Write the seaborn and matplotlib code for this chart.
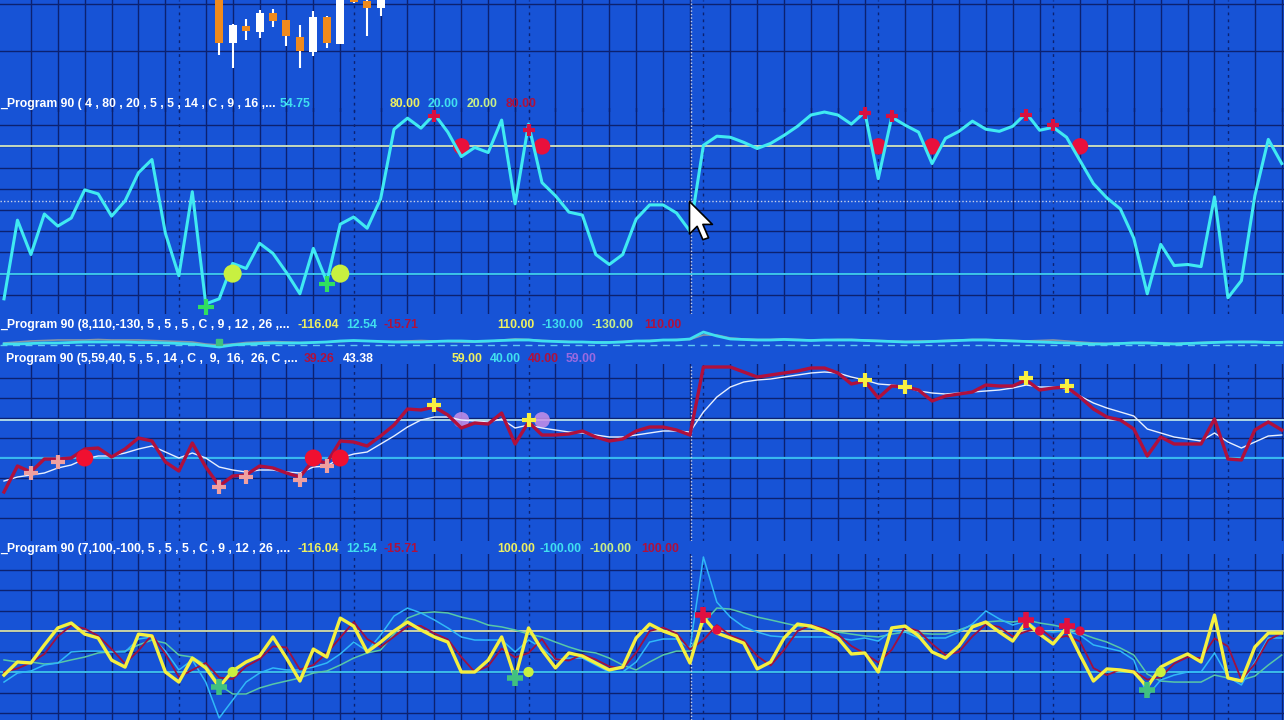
import numpy as np
import seaborn as sns
import matplotlib.pyplot as plt
from matplotlib.path import Path

W, H = 1284, 720
BG = '#1753d6'
GRID = '#0c2170'
WHITE, YEL, CYAN, LGREEN, CRIMSON, LAV = '#ffffff', '#eef060', '#40e0f0', '#c8f088', '#b0103c', '#9a6ae0'

# bar layout
n_bars = 96
bars = np.arange(n_bars)
session_starts = [0, 13, 26, 39, 52, 65, 78, 91]
cursor_bar, cursor_val = 50.9, 54.3

# price candles (visible part of the price chart)
candle_idx = list(range(16, 29))
candle_open = [110, 57, 74, 68, 87, 80, 63, 48, 83, 56, 105, 99, 92]
candle_close = [57, 75, 69, 87, 79, 64, 49, 83, 57, 110, 98, 92, 105]
candle_high = [115, 76, 81, 90, 91, 80, 75, 89, 84, 115, 110, 100, 110]
candle_low = [45, 32, 60, 62, 73, 54, 32, 44, 52, 56, 97, 64, 84]

# indicator 1 (4, 80, 20)
ind1 = [8.1, 45.2, 29.0, 48.1, 42.4, 46.2, 59.5, 57.6, 47.1, 54.3,
        67.6, 73.8, 39.0, 19.0, 58.6, 5.7, 8.1, 24.8, 22.4, 34.3,
        29.5, 20.5, 10.5, 31.9, 16.2, 43.3, 46.7, 41.4, 55.2, 88.1,
        93.3, 88.6, 95.2, 86.7, 75.2, 79.5, 77.1, 92.4, 52.9, 90.5,
        62.9, 56.7, 49.0, 47.6, 29.0, 24.3, 29.0, 45.7, 52.4, 52.4,
        48.6, 40.0, 80.5, 84.8, 84.3, 81.9, 79.0, 81.4, 85.2, 89.5,
        94.8, 96.2, 94.8, 90.5, 96.2, 64.8, 93.8, 90.0, 86.7, 71.9,
        83.8, 87.1, 91.9, 88.1, 87.1, 89.5, 95.7, 87.6, 89.0, 84.3,
        73.3, 62.4, 55.7, 50.5, 36.7, 10.5, 33.8, 23.8, 24.3, 23.3,
        56.2, 8.6, 16.7, 56.7, 83.3, 71.9]
ind1_buy_idx = [15, 24]
ind1_buy_val = [4.3, 15.2]
ind1_low_dot_idx = [17, 25]
ind1_high_dot_idx = [34, 40, 65, 69, 80]
ind1_sell_idx = [32, 39, 64, 66, 76, 78]
ind1_sell_val = [94.3, 87.6, 95.7, 94.3, 94.8, 90.0]

# indicator 2 (8, 110, -130), squeezed pane
ind2_cyan = [8, 8, 8.5, 9, 9, 9.5, 10, 10, 10, 10,
             9.5, 9.5, 9, 8.5, 8, 6.5, 5, 7, 8, 8.5,
             9, 9, 9, 9.5, 10, 11, 11.5, 11, 10.5, 10,
             10, 10, 10.5, 11, 11, 10.5, 11, 11.5, 12, 12,
             11, 10.5, 10, 10, 9.5, 9.5, 10, 11, 11, 12,
             12, 13, 20, 16, 13, 12.5, 12, 12, 12.5, 12,
             11.5, 12, 12, 12, 11.5, 11, 10.5, 10, 10, 10.5,
             11, 11.5, 12, 12, 11.5, 11, 10.5, 10, 9.5, 9,
             8.5, 8, 8, 8.5, 9, 9, 8.5, 8, 8.5, 9,
             9.5, 10, 10, 10, 9.5, 9.5]
ind2_grey = [9, 10, 11, 11.5, 12, 12, 12, 12.5, 12, 12,
             12, 11.5, 11, 10.5, 10, 8, 7, 8, 9.5, 10,
             10.5, 10, 9.5, 9.5, 10, 10.5, 11, 11, 10.5, 10.5,
             11, 11.5, 11, 10.5, 10, 10, 10.5, 12, 13, 12.5,
             11.5, 11, 10.5, 10, 10, 10, 10.5, 11, 11.5, 12,
             12.5, 12.5, 17, 17, 14, 13, 12.5, 12.5, 13, 12.5,
             12, 12, 12.5, 12.5, 12, 11.5, 11, 10.5, 11, 11,
             11.5, 12, 12.5, 12.5, 12, 11.5, 11, 11.5, 12, 11,
             10, 9, 8.5, 9, 9.5, 9.5, 9, 8.5, 9, 9.5,
             10, 10, 10.5, 10.5, 10, 10]

# indicator 3 (5, 59, 40)
ind3_red = [23, 36, 33, 39.5, 39.5, 40, 44.5, 45, 40.5, 44.5,
            50, 48.5, 38, 33.5, 47.5, 35.5, 26, 31, 31.5, 36,
            35, 32.5, 30.5, 39, 37.5, 48.5, 48, 46, 51, 56.5,
            64.5, 64, 65.5, 61.5, 55, 57.5, 57, 62.5, 47, 58,
            51.5, 51.5, 52, 53.5, 50.5, 48.5, 49.5, 53.5, 55.5, 55.5,
            54, 51.5, 85.5, 85.5, 85.5, 83, 80.5, 81.5, 82.5, 83.5,
            85, 85, 82.5, 77, 78.5, 70, 76, 75.5, 74, 68.5,
            71, 72, 73, 76.5, 76, 76, 79, 74, 75, 75.5,
            70.5, 64.5, 60.5, 59, 54.5, 41, 50.5, 47, 47, 47,
            59.5, 39.5, 39, 54, 58, 54]
ind3_white = [28.5, 30.5, 31.5, 32.5, 35, 36.5, 39.5, 41, 41, 42.5,
              44.5, 46, 43, 40, 42.5, 40, 35.5, 34, 33, 34,
              34, 33, 32.5, 35.5, 36, 40, 42, 43, 47, 51,
              55.5, 59, 60.5, 60.5, 59, 58.5, 58, 59.5, 55, 56.5,
              55, 54, 53, 52.5, 51.5, 50.5, 50.5, 51.5, 52.5, 53.5,
              53.5, 53, 63, 70.5, 75.5, 78, 79, 79.5, 80.5, 81.5,
              82.5, 83, 82.5, 80.5, 79, 77, 76.5, 75.5, 73.5, 72.5,
              72, 72.5, 73, 73.5, 74, 75, 76.5, 75.5, 75.5, 74.5,
              71, 67.5, 65, 63, 61, 54.5, 52.5, 50.5, 49.5, 48.5,
              52.5, 48, 45, 48, 51, 51.5]
ind3_pink_idx = [2, 4, 16, 18, 22, 24]
ind3_pink_val = [32.5, 38, 25.5, 30.5, 29, 36]
ind3_red_dot_idx = [6, 23, 25]
ind3_yel_idx = [32, 39, 64, 67, 76, 79]
ind3_yel_val = [66.5, 59, 79, 75.5, 80, 76]
ind3_lav_idx = [34, 40]

# indicator 4 (7, 100, -100)
ind4_yellow = [-115, -51, -56, 32, 115, 139, 85, 66, -42, -76,
               85, 76, -100, -149, -32, -80, -173, -95, -51, -22,
               71, -32, -144, 12, -27, 163, 124, -2, 46, 100,
               144, 105, 71, 46, -100, -100, -42, 71, -129, 115,
               7, -80, -7, -22, -56, -90, -76, 66, 134, 100,
               76, -56, 168, 90, 66, 41, -85, -51, 66, 134,
               124, 100, 66, -12, -7, -100, 115, 124, 76, -2,
               -32, 27, 120, 144, 95, 51, 144, 85, 37, 115,
               -17, -144, -85, -90, -100, -173, -76, -42, -12, -51,
               178, -129, -144, 22, 90, 90]
ind4_red = [-100, -83, -54, -12, 74, 127, 112, 76, 12, -59,
            5, 81, -12, -125, -90, -56, -127, -134, -73, -37,
            25, 20, -88, -66, -8, 68, 144, 61, 22, 73,
            122, 125, 88, 59, -27, -100, -71, 15, -29, -7,
            61, -37, -44, -15, -39, -73, -83, -5, 100, 117,
            88, 10, 56, 129, 78, 54, -22, -68, 8, 100,
            129, 112, 83, 27, -10, -54, 8, 120, 100, 37,
            -17, -2, 74, 132, 120, 73, 98, 115, 61, 76,
            49, -81, -115, -88, -95, -137, -125, -59, -27, -32,
            64, 25, -137, -61, 56, 90]
ind4_blue = [-149, -105, -95, -66, -56, -2, 2, 2, -2, -2,
             61, 71, 2, -90, -41, -149, -324, -237, -149, -105,
             -80, -90, -90, -76, -56, -12, 46, 2, 80, 173,
             212, 188, 154, 115, 71, 56, 56, 56, -2, 56,
             17, -41, -32, -32, -66, -100, -100, -51, 46, 61,
             61, 17, 461, 241, 168, 120, 95, 76, 71, 71,
             71, 71, 66, 56, 66, 51, 100, 95, 66, 66,
             66, 95, 134, 198, 159, 129, 149, 100, 95, 100,
             80, 32, 17, 2, -41, -217, -139, -115, -100, -100,
             -7, -124, -163, -51, 66, 66]
ind4_teal = [-41, -51, -51, -61, -56, -41, -27, -7, -2, 2,
             32, 56, 41, -17, -27, -66, -163, -207, -207, -178,
             -159, -144, -129, -105, -95, -66, -32, -7, 7, 85,
             163, 188, 193, 188, 168, 154, 129, 120, 105, 85,
             71, 46, 22, 2, -7, -32, -66, -90, -51, -17,
             2, 2, 139, 212, 207, 188, 168, 154, 139, 124,
             115, 100, 95, 85, 76, 71, 85, 95, 90, 85,
             85, 105, 129, 144, 149, 144, 154, 139, 129, 115,
             90, 66, 46, 17, -17, -110, -144, -149, -149, -149,
             -115, -129, -139, -120, -66, -17]
ind4_buy_idx = [16, 38, 85]
ind4_buy_val = [-173, -129, -188]
ind4_dot_idx = [17, 39, 86]
ind4_sell_idx = [52, 76, 79]
ind4_sell_val = [178, 154, 124]
ind4_sell_dot_idx = [53, 77, 80]
ind4_sell_dot_val = [105, 100, 100]

fig = plt.figure(figsize=(W / 100, H / 100), dpi=100, facecolor=BG)


def panel(top, bottom, ylim):
    ax = fig.add_axes([0, 1 - bottom / H, 1, (bottom - top) / H])
    ax.set_xlim(-4 / 13.45, (W - 4) / 13.45)
    ax.set_ylim(*ylim)
    ax.axis('off')
    return ax


def vgrid(ax):
    for s in session_starts:
        if s > 0:
            ax.axvline(s, color=GRID, lw=1, ls=(0, (2, 3)), zorder=1)
        for k in range(1, 7):
            ax.axvline(s + 2 * k, color=GRID, lw=1, zorder=1)


def header(y, parts):
    for txt, x, col in parts:
        fig.text(x / W, 1 - y / H, txt, color=col, fontsize=8.8, fontweight='bold',
                 family='Liberation Sans', va='center', ha='left')


def plus(ax, idx, vals, col, ms=11, mew=3):
    ax.plot(idx, vals, ls='none', marker='+', ms=ms, mew=mew, color=col, zorder=6, clip_on=False)


# price pane
ax0 = panel(0, 112, (-12, 100))
vgrid(ax0)
for lvl in [49, 96]:
    ax0.axhline(lvl, color=GRID, lw=1)
for i, o, c, hi, lo in zip(candle_idx, candle_open, candle_close, candle_high, candle_low):
    col = WHITE if c > o else '#f08a1c'
    ax0.vlines(i, lo, hi, color=WHITE, lw=1.5, zorder=3)
    ax0.bar(i, abs(c - o), bottom=min(o, c), width=0.6, color=col, zorder=4)

# pane 1
ax1 = panel(108, 314, (0.95, 98.1))
vgrid(ax1)
for lvl in range(10, 100, 10):
    ax1.axhline(lvl, color=GRID, lw=1)
ax1.axhline(80, color='#d4e8c0', lw=1.3)
ax1.axhline(20, color='#40d0f0', lw=1.3)
ax1.axhline(cursor_val, color='#c8d0e8', lw=1, ls=(0, (1, 1.5)))
sns.lineplot(x=bars, y=ind1, ax=ax1, color='#40eaf2', linewidth=2.2, zorder=5)
sns.scatterplot(x=ind1_low_dot_idx, y=[20] * len(ind1_low_dot_idx), ax=ax1, color='#c8f040',
                s=170, edgecolor='none', zorder=6)
sns.scatterplot(x=ind1_high_dot_idx, y=[80] * len(ind1_high_dot_idx), ax=ax1, color='#e8103c',
                s=140, edgecolor='none', zorder=4)
plus(ax1, ind1_buy_idx, ind1_buy_val, '#30e060', ms=12)
plus(ax1, ind1_sell_idx, ind1_sell_val, '#d81040', ms=9)

# pane 2
ax2 = panel(330, 352, (0, 22))
ax2.axhline(7, color='#60c8f0', lw=1, ls=(0, (5, 4)))
sns.lineplot(x=bars, y=ind2_grey, ax=ax2, color='#8898a8', linewidth=1.2)
sns.lineplot(x=bars, y=ind2_cyan, ax=ax2, color='#40e0f0', linewidth=2)
ax2.plot([16], [10], ls='none', marker='s', ms=5, color='#40c080')

# pane 3
ax3 = panel(364, 541, (-1.5, 87))
vgrid(ax3)
for lvl in range(10, 90, 10):
    ax3.axhline(lvl, color=GRID, lw=1)
ax3.axhline(59, color='#b8e0e8', lw=1.3)
ax3.axhline(40, color='#38b8f0', lw=1.6)
sns.scatterplot(x=ind3_lav_idx, y=[59] * len(ind3_lav_idx), ax=ax3, color='#c890e8', alpha=0.85,
                s=130, edgecolor='none', zorder=3)
sns.lineplot(x=bars, y=ind3_white, ax=ax3, color='#e8f0ff', linewidth=1, zorder=4)
sns.lineplot(x=bars, y=ind3_red, ax=ax3, color='#b0103c', linewidth=2.4, zorder=5)
sns.scatterplot(x=ind3_red_dot_idx, y=[40] * len(ind3_red_dot_idx), ax=ax3, color='#f01030',
                s=150, edgecolor='none', zorder=6)
plus(ax3, ind3_pink_idx, ind3_pink_val, '#f0a0a0', ms=10)
plus(ax3, ind3_yel_idx, ind3_yel_val, '#f8f040', ms=10)

# pane 4
ax4 = panel(554, 720, (-334, 475.6))
vgrid(ax4)
for lvl in range(-300, 500, 100):
    ax4.axhline(lvl, color=GRID, lw=1)
ax4.axhline(100, color='#d8e0a8', lw=1.3)
ax4.axhline(-100, color='#40c8f0', lw=1.3)
sns.lineplot(x=bars, y=ind4_teal, ax=ax4, color='#58c8a8', linewidth=1.1, zorder=3)
sns.lineplot(x=bars, y=ind4_blue, ax=ax4, color='#30b8f8', linewidth=1.1, zorder=3)
sns.lineplot(x=bars, y=ind4_red, ax=ax4, color='#a01040', linewidth=1.3, zorder=4)
sns.lineplot(x=bars, y=ind4_yellow, ax=ax4, color='#f4f040', linewidth=2.4, zorder=5)
plus(ax4, ind4_buy_idx, ind4_buy_val, '#40c080', ms=12, mew=4)
sns.scatterplot(x=ind4_dot_idx, y=[-100] * len(ind4_dot_idx), ax=ax4, color='#c8f040',
                s=55, edgecolor='none', zorder=6)
plus(ax4, ind4_sell_idx, ind4_sell_val, '#e01040', ms=11, mew=4)
sns.scatterplot(x=ind4_sell_dot_idx, y=ind4_sell_dot_val, ax=ax4, color='#e01040',
                s=45, edgecolor='none', zorder=6)

# cursor crosshair and pointer
for ax in [ax0, ax1, ax3, ax4]:
    ax.axvline(cursor_bar + 0.2, color='#c8d0e8', lw=1, ls=(0, (1, 1.5)), zorder=2)
arrow = Path([(0, 0), (0, -17), (4, -13), (7, -20), (10, -19), (7, -12), (12, -12), (0, 0)],
             [Path.MOVETO] + [Path.LINETO] * 6 + [Path.CLOSEPOLY])
ax1.plot([cursor_bar], [cursor_val], marker=arrow, ms=55, color='white', mec='black', mew=1.2, zorder=10)

header(104, [("_Program 90 ( 4 , 80 , 20 , 5 , 5 , 14 , C , 9 , 16 ,...", 0, WHITE), ("54.75", 280, CYAN),
             ("80.00", 390, YEL), ("20.00", 428, CYAN), ("20.00", 467, LGREEN), ("80.00", 506, CRIMSON)])
header(325, [("_Program 90 (8,110,-130, 5 , 5 , 5 , C , 9 , 12 , 26 ,...", 0, WHITE), ("-116.04", 297, YEL),
             ("12.54", 346, CYAN), ("-15.71", 384, CRIMSON), ("110.00", 497, YEL), ("-130.00", 542, CYAN),
             ("-130.00", 592, LGREEN), ("110.00", 644, CRIMSON)])
header(359, [("Program 90 (5,59,40, 5 , 5 , 14 , C ,  9,  16,  26, C ,...", 6, WHITE), ("39.26", 304, CRIMSON),
             ("43.38", 343, WHITE), ("59.00", 452, YEL), ("40.00", 490, CYAN), ("40.00", 528, CRIMSON),
             ("59.00", 566, LAV)])
header(549, [("_Program 90 (7,100,-100, 5 , 5 , 5 , C , 9 , 12 , 26 ,...", 0, WHITE), ("-116.04", 297, YEL),
             ("12.54", 346, CYAN), ("-15.71", 384, CRIMSON), ("100.00", 497, YEL), ("-100.00", 539, CYAN),
             ("-100.00", 589, LGREEN), ("100.00", 641, CRIMSON)])

fig.savefig('out.png', dpi=100, facecolor=BG)
